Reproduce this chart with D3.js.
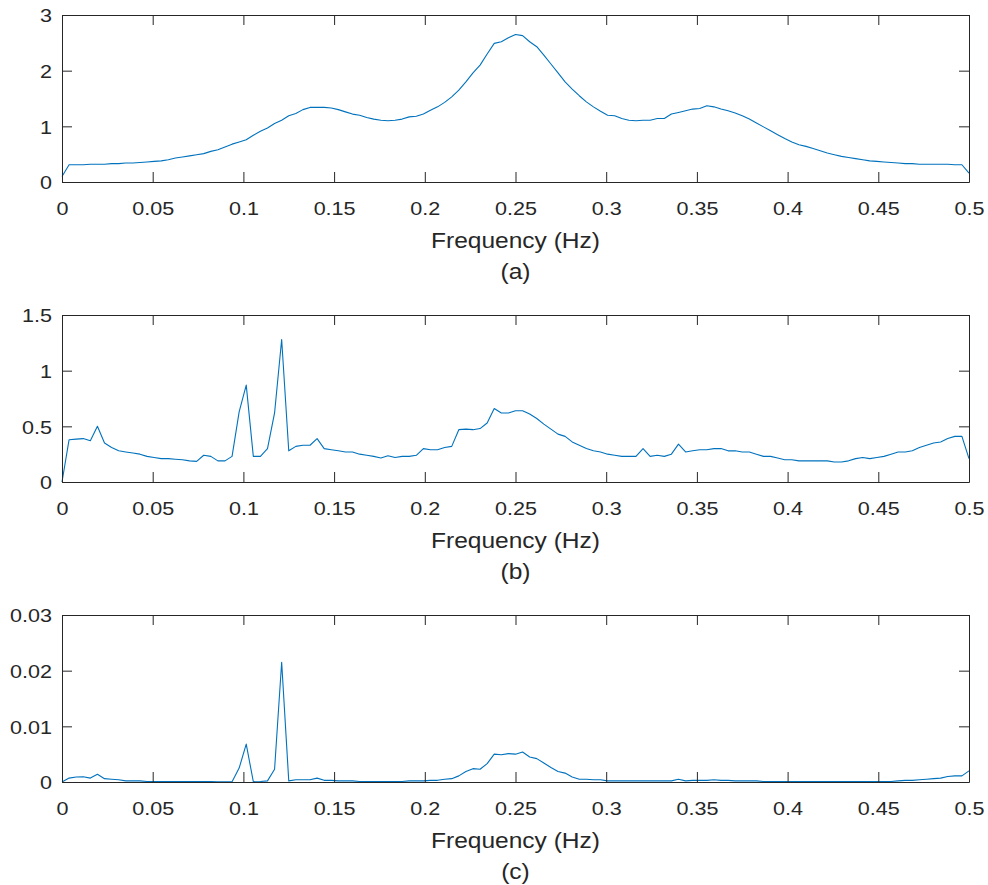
<!DOCTYPE html>
<html>
<head>
<meta charset="utf-8">
<script src="https://cdn.jsdelivr.net/npm/d3@7/dist/d3.min.js"></script>
<style>
  html, body { margin: 0; padding: 0; background: #fff; }
  svg { display: block; }
</style>
</head>
<body>
<svg id="chart" width="988" height="885"></svg>
<script>
// ---------------- data ----------------
// frequency grid: 129 bins from 0 to 0.5 Hz (step 1/256)
const nBins = 129;
const frequency = d3.range(nBins).map(k => k / 256);

const seriesA = [
  0.10, 0.31, 0.31, 0.31, 0.32, 0.32, 0.32, 0.33, 0.33, 0.34,
  0.34, 0.35, 0.36, 0.37, 0.38, 0.40, 0.43, 0.45, 0.47, 0.49,
  0.51, 0.55, 0.58, 0.63, 0.68, 0.72, 0.76, 0.84, 0.91, 0.97,
  1.05, 1.11, 1.19, 1.23, 1.30, 1.34, 1.34, 1.34, 1.33, 1.30,
  1.26, 1.22, 1.20, 1.16, 1.13, 1.11, 1.10, 1.11, 1.13, 1.17,
  1.18, 1.22, 1.29, 1.35, 1.43, 1.53, 1.65, 1.80, 1.96, 2.10,
  2.30, 2.49, 2.52, 2.59, 2.65, 2.63, 2.52, 2.43, 2.28, 2.12,
  1.96, 1.80, 1.67, 1.55, 1.44, 1.35, 1.27, 1.20, 1.19, 1.14,
  1.11, 1.10, 1.11, 1.11, 1.14, 1.14, 1.22, 1.25, 1.28, 1.31,
  1.32, 1.37, 1.35, 1.31, 1.28, 1.24, 1.19, 1.13, 1.06, 0.99,
  0.92, 0.85, 0.78, 0.72, 0.67, 0.64, 0.60, 0.56, 0.52, 0.49,
  0.46, 0.44, 0.42, 0.40, 0.38, 0.37, 0.36, 0.35, 0.34, 0.33,
  0.33, 0.32, 0.32, 0.32, 0.32, 0.32, 0.31, 0.31, 0.16
];

const seriesB = [
  0.00, 0.38, 0.385, 0.39, 0.37, 0.50, 0.35, 0.31, 0.28, 0.27,
  0.26, 0.25, 0.23, 0.22, 0.21, 0.21, 0.205, 0.20, 0.19, 0.185,
  0.24, 0.23, 0.19, 0.19, 0.23, 0.63, 0.87, 0.23, 0.23, 0.30,
  0.62, 1.28, 0.28, 0.32, 0.33, 0.33, 0.39, 0.30, 0.29, 0.28,
  0.27, 0.27, 0.25, 0.24, 0.23, 0.215, 0.235, 0.22, 0.23, 0.23,
  0.24, 0.30, 0.29, 0.29, 0.31, 0.32, 0.47, 0.475, 0.47, 0.48,
  0.53, 0.66, 0.62, 0.62, 0.64, 0.64, 0.61, 0.57, 0.52, 0.475,
  0.43, 0.41, 0.36, 0.33, 0.30, 0.28, 0.27, 0.25, 0.24, 0.23,
  0.23, 0.23, 0.30, 0.23, 0.24, 0.23, 0.25, 0.34, 0.27, 0.28,
  0.29, 0.29, 0.30, 0.30, 0.28, 0.28, 0.27, 0.27, 0.25, 0.23,
  0.23, 0.215, 0.20, 0.20, 0.19, 0.19, 0.19, 0.19, 0.19, 0.18,
  0.18, 0.19, 0.21, 0.22, 0.21, 0.22, 0.23, 0.25, 0.27, 0.27,
  0.28, 0.31, 0.33, 0.35, 0.36, 0.39, 0.41, 0.41, 0.21
];

const seriesC = [
  0.0000, 0.0007, 0.0009, 0.00095, 0.0007, 0.0014, 0.0006, 0.0005, 0.0004, 0.0002,
  0.0002, 0.0002, 0.0001, 0.0001, 0.0001, 0.0001, 0.0001, 0.0001, 0.0001, 0.0001,
  0.0001, 0.0001, 0.00005, 0.00005, 0.00005, 0.0025, 0.0068, 0.00005, 0.0001, 0.0002,
  0.0023, 0.0215, 0.0002, 0.0004, 0.0004, 0.0004, 0.0007, 0.0003, 0.0003, 0.0002,
  0.0002, 0.0002, 0.0001, 0.0001, 0.0001, 0.0001, 0.0001, 0.0001, 0.0001, 0.0002,
  0.0002, 0.0002, 0.0003, 0.0003, 0.0005, 0.0006, 0.0011, 0.0019, 0.0024, 0.0023,
  0.0033, 0.0050, 0.0049, 0.0051, 0.0050, 0.0054, 0.0045, 0.0042, 0.0034, 0.0026,
  0.0019, 0.0016, 0.0009, 0.0005, 0.0005, 0.0004, 0.0004, 0.0002, 0.0002, 0.0002,
  0.0002, 0.0002, 0.0002, 0.0002, 0.0002, 0.0002, 0.0002, 0.0005, 0.0002, 0.0003,
  0.0003, 0.0003, 0.0004, 0.0003, 0.0003, 0.0002, 0.0002, 0.0002, 0.0002, 0.0001,
  0.0001, 0.0001, 0.0001, 0.0001, 0.0001, 0.0001, 0.0001, 0.0001, 0.0001, 0.0001,
  0.0001, 0.0001, 0.0001, 0.0001, 0.0001, 0.0001, 0.0001, 0.0001, 0.0002, 0.0003,
  0.0003, 0.0004, 0.0005, 0.0006, 0.0007, 0.0010, 0.0011, 0.0011, 0.0020
];

const xTickValues = [0, 0.05, 0.1, 0.15, 0.2, 0.25, 0.3, 0.35, 0.4, 0.45, 0.5];
const xTickLabels = ["0", "0.05", "0.1", "0.15", "0.2", "0.25", "0.3", "0.35", "0.4", "0.45", "0.5"];

const yTickValuesA = [0, 1, 2, 3];
const yTickLabelsA = ["0", "1", "2", "3"];
const yTickValuesB = [0, 0.5, 1, 1.5];
const yTickLabelsB = ["0", "0.5", "1", "1.5"];
const yTickValuesC = [0, 0.01, 0.02, 0.03];
const yTickLabelsC = ["0", "0.01", "0.02", "0.03"];

const xLabel = "Frequency (Hz)";
const panelCaptions = ["(a)", "(b)", "(c)"];

// ---------------- layout ----------------
const svg = d3.select("#chart");
const left = 62, right = 969, plotH = 167;
const tops = [15, 315, 615];
const axisColor = "#262626";
const lineColor = "#0072BD";
const fontFamily = "'Liberation Sans', Arial, Helvetica, sans-serif";
const tickFont = 18.6, tickStretch = 1.16;
const labelFont = 22.3, labelStretch = 1.1;

const panels = [
  { values: seriesA, ymax: 3,    yt: yTickValuesA, yl: yTickLabelsA, caption: panelCaptions[0] },
  { values: seriesB, ymax: 1.5,  yt: yTickValuesB, yl: yTickLabelsB, caption: panelCaptions[1] },
  { values: seriesC, ymax: 0.03, yt: yTickValuesC, yl: yTickLabelsC, caption: panelCaptions[2] }
];

const x = d3.scaleLinear().domain([0, 0.5]).range([left, right]);

panels.forEach((p, i) => {
  const top = tops[i], bottom = top + plotH;
  const y = d3.scaleLinear().domain([0, p.ymax]).range([bottom, top]);
  const g = svg.append("g");

  // line
  const line = d3.line().x((d, k) => x(frequency[k])).y(d => y(d));
  g.append("path")
    .datum(p.values)
    .attr("d", line)
    .attr("fill", "none")
    .attr("stroke", lineColor)
    .attr("stroke-width", 1.1)
    .attr("stroke-linejoin", "round");

  // bottom axis
  const gb = g.append("g").attr("transform", `translate(0,${bottom})`)
    .call(d3.axisBottom(x).tickValues(xTickValues)
      .tickFormat((d, j) => xTickLabels[j])
      .tickSizeInner(-10).tickSizeOuter(0));
  gb.selectAll("text")
    .attr("y", 0).attr("dy", 0)
    .attr("transform", `translate(0,33) scale(${tickStretch},1)`);

  // top axis (ticks only)
  g.append("g").attr("transform", `translate(0,${top})`)
    .call(d3.axisTop(x).tickValues(xTickValues).tickFormat("")
      .tickSizeInner(-10).tickSizeOuter(0));

  // left axis
  const gl = g.append("g").attr("transform", `translate(${left},0)`)
    .call(d3.axisLeft(y).tickValues(p.yt)
      .tickFormat((d, j) => p.yl[j])
      .tickSizeInner(-10).tickSizeOuter(0));
  gl.selectAll("text")
    .attr("x", 0).attr("dy", "0.36em")
    .attr("transform", `translate(-10,0) scale(${tickStretch},1)`);

  // right axis (ticks only)
  g.append("g").attr("transform", `translate(${right},0)`)
    .call(d3.axisRight(y).tickValues(p.yt).tickFormat("")
      .tickSizeInner(-10).tickSizeOuter(0));

  g.selectAll(".domain, .tick line").attr("stroke", axisColor).attr("stroke-width", 1);
  g.selectAll("g text")
    .attr("fill", axisColor)
    .style("font-family", fontFamily)
    .style("font-size", tickFont + "px");

  // x label and caption
  const cx = (left + right) / 2;
  g.append("text")
    .attr("transform", `translate(${cx},${bottom + 66}) scale(${labelStretch},1)`)
    .attr("text-anchor", "middle")
    .attr("fill", axisColor)
    .style("font-family", fontFamily)
    .style("font-size", labelFont + "px")
    .text(xLabel);
  g.append("text")
    .attr("transform", `translate(${cx},${bottom + 97}) scale(${labelStretch},1)`)
    .attr("text-anchor", "middle")
    .attr("fill", axisColor)
    .style("font-family", fontFamily)
    .style("font-size", labelFont + "px")
    .text(p.caption);
});
</script>
</body>
</html>
